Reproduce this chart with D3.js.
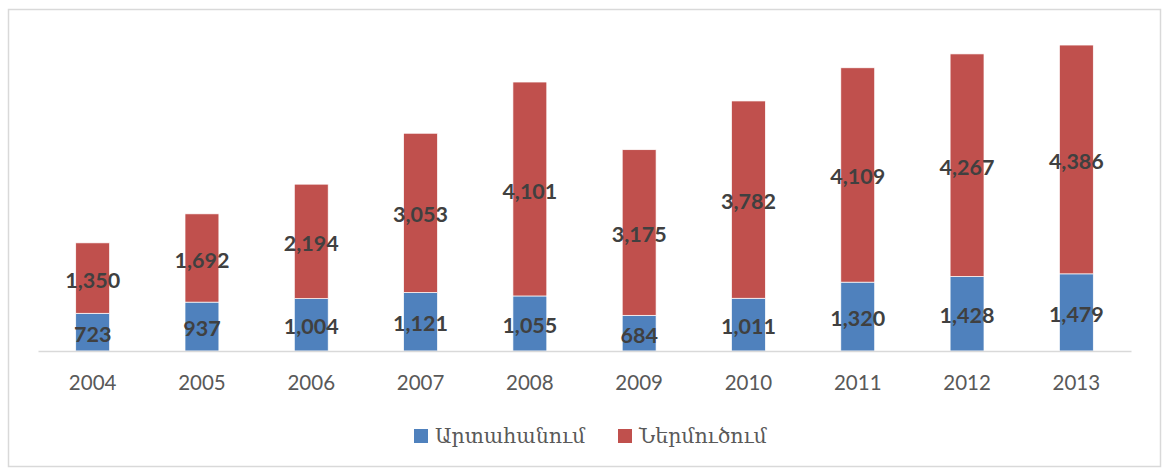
<!DOCTYPE html>
<html>
<head>
<meta charset="utf-8">
<script src="https://cdn.jsdelivr.net/npm/d3@7"></script>
<style>
	body { margin: 0; background: #fff; }
</style>
</head>
<body>
<div id="chart"></div>
<script>
	// chart data
	var years = ["2004", "2005", "2006", "2007", "2008", "2009", "2010", "2011", "2012", "2013"];
	var exportVals = [723, 937, 1004, 1121, 1055, 684, 1011, 1320, 1428, 1479];
	var importVals = [1350, 1692, 2194, 3053, 4101, 3175, 3782, 4109, 4267, 4386];
	var seriesNames = ["Արտահանում", "Ներմուծում"];
	var seriesColors = ["#4f81bd", "#c0504d"];

	var width = 1165;
	var height = 470;

	var svg = d3.select("#chart")
		.append("svg")
		.attr("width", width)
		.attr("height", height);

	// outer border
	svg.append("rect")
		.attr("x", 8.5)
		.attr("y", 9.5)
		.attr("width", 1152)
		.attr("height", 457)
		.attr("fill", "#fff")
		.attr("stroke", "#d9d9d9")
		.attr("stroke-width", 1.5);

	var x = d3.scaleBand()
		.domain(years)
		.range([38, 1131])
		.paddingInner(0.69)
		.paddingOuter(0.345);

	var y = d3.scaleLinear()
		.domain([0, 6000])
		.range([351, 38]);

	var rows = years.map(function(yr, i) {
		return { year: yr, exp: exportVals[i], imp: importVals[i] };
	});
	var stack = d3.stack().keys(["exp", "imp"]);
	var layers = stack(rows);

	var g = svg.append("g");
	g.selectAll("g.layer")
		.data(layers)
		.enter()
		.append("g")
		.attr("class", "layer")
		.attr("fill", function(d, i) { return seriesColors[i]; })
		.selectAll("rect")
		.data(function(d) { return d; })
		.enter()
		.append("rect")
		.attr("x", function(d) { return x(d.data.year); })
		.attr("width", x.bandwidth())
		.attr("y", function(d) { return y(d[1]); })
		.attr("height", function(d) { return y(d[0]) - y(d[1]); })
		.attr("stroke", "#fff")
		.attr("stroke-width", 0.7);

	// value labels
	var fmt = d3.format(",");
	layers.forEach(function(layer) {
		g.selectAll(null)
			.data(layer)
			.enter()
			.append("text")
			.attr("x", function(d) { return x(d.data.year) + x.bandwidth() / 2; })
			.attr("y", function(d) { return (y(d[0]) + y(d[1])) / 2 + 4; })
			.attr("text-anchor", "middle")
			.attr("dominant-baseline", "middle")
			.attr("font-family", "Lato, 'Open Sans', sans-serif")
			.attr("font-weight", "bold")
			.attr("font-size", 21.5)
			.attr("fill", "#404040")
			.text(function(d) { return fmt(d[1] - d[0]); });
	});

	// x axis
	var xAxis = svg.append("g")
		.attr("transform", "translate(0,351)")
		.call(d3.axisBottom(x).tickSize(0).tickPadding(24));
	xAxis.select(".domain").attr("stroke", "#d9d9d9").attr("stroke-width", 1.5);
	xAxis.selectAll("text")
		.attr("font-family", "Lato, 'Open Sans', sans-serif")
		.attr("font-size", 20.5)
		.attr("fill", "#595959");

	// legend
	var legend = svg.append("g");
	var legendX = [414, 618];
	seriesNames.forEach(function(name, i) {
		legend.append("rect")
			.attr("x", legendX[i])
			.attr("y", 429)
			.attr("width", 14)
			.attr("height", 14)
			.attr("fill", seriesColors[i]);
		legend.append("text")
			.attr("x", legendX[i] + 21)
			.attr("y", 437)
			.attr("dominant-baseline", "middle")
			.attr("font-family", "'DejaVu Serif', serif")
			.attr("font-size", 20.5)
			.attr("fill", "#595959")
			.text(name);
	});
</script>
</body>
</html>
